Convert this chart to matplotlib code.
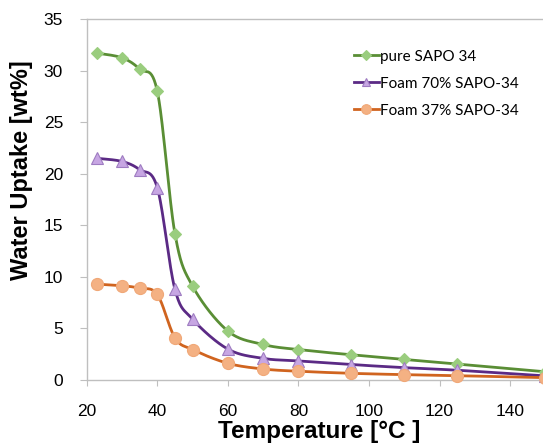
import numpy as np
import matplotlib
matplotlib.use("Agg")
import matplotlib.pyplot as plt

plt.rcParams["font.family"] = ["Liberation Sans", "DejaVu Sans"]

temps = [23, 30, 35, 40, 45, 50, 60, 70, 80, 95, 110, 125, 150]
pure_sapo = [31.7, 31.25, 30.15, 28.0, 14.2, 9.1, 4.75, 3.45, 2.95, 2.45, 2.0, 1.55, 0.8]
foam70 = [21.5, 21.2, 20.4, 18.65, 8.8, 5.9, 3.0, 2.1, 1.85, 1.5, 1.2, 0.95, 0.4]
foam37 = [9.3, 9.15, 8.9, 8.3, 4.1, 2.95, 1.62, 1.07, 0.85, 0.65, 0.52, 0.42, 0.23]
labels = ["pure SAPO 34", "Foam 70% SAPO-34", "Foam 37% SAPO-34"]


def smooth(x, y, n=30):
    x = np.asarray(x, float)
    y = np.asarray(y, float)
    px = np.concatenate([[x[0]], x, [x[-1]]])
    py = np.concatenate([[y[0]], y, [y[-1]]])
    xs, ys = [], []
    for i in range(1, len(px) - 2):
        p0 = np.array([px[i - 1], py[i - 1]])
        p1 = np.array([px[i], py[i]])
        p2 = np.array([px[i + 1], py[i + 1]])
        p3 = np.array([px[i + 2], py[i + 2]])
        c1 = p1 + (p2 - p0) / 6.0
        c2 = p2 - (p3 - p1) / 6.0
        t = np.linspace(0, 1, n)[:, None]
        b = ((1 - t) ** 3) * p1 + 3 * ((1 - t) ** 2) * t * c1 + 3 * (1 - t) * t ** 2 * c2 + t ** 3 * p2
        xs.append(b[:, 0])
        ys.append(b[:, 1])
    return np.concatenate(xs), np.concatenate(ys)


fig = plt.figure(figsize=(5.43, 4.45), dpi=100)
ax = fig.add_axes([0.1597, 0.146, 1.0 - 0.1597, 0.957 - 0.146])

series = [
    (pure_sapo, "#5A8E35", "#9ACD7E", "#9ACD7E", "D", 6.5),
    (foam70, "#5B2A85", "#C7A6E3", "#9E7CC1", "^", 8),
    (foam37, "#D0641F", "#F4B183", "#F0A878", "o", 8.7),
]
for (vals, lc, mc, me, mk, ms), lab in zip(series, labels):
    sx, sy = smooth(temps, vals)
    ax.plot(sx, sy, color=lc, lw=2.0, zorder=2, clip_on=False)
    ax.plot(temps, vals, linestyle="none", marker=mk, ms=ms, mfc=mc,
            mec=me, mew=0.8, zorder=3, clip_on=False)
    ax.plot([], [], color=lc, lw=2.0, marker=mk, ms=ms, mfc=mc,
            mec=me, mew=0.8, label=lab)

ax.set_xlim(20, 149.3)
ax.set_ylim(0, 35)
ax.set_xticks(range(20, 141, 20))
ax.set_yticks(range(0, 36, 5))
for s in ["left", "bottom", "top"]:
    ax.spines[s].set_color("#BFBFBF")
    ax.spines[s].set_linewidth(1.0)
ax.spines["right"].set_visible(False)
ax.tick_params(axis="both", colors="#BFBFBF", labelcolor="black",
               labelsize=12.5, direction="out")
ax.tick_params(axis="y", length=5, pad=12)
ax.tick_params(axis="x", length=4, pad=13)

ax.set_xlabel("Temperature [°C ]", fontsize=17.5, fontweight="bold")
ax.set_ylabel("Water Uptake [wt%]", fontsize=17, fontweight="bold")
ax.xaxis.set_label_coords(0.51, -0.11)
ax.yaxis.set_label_coords(-0.118, 0.582)

leg = ax.legend(loc="upper left", bbox_to_anchor=(0.585, 0.915), frameon=False,
                prop={"family": "Lato", "size": 11}, handlelength=1.65,
                handletextpad=0.1, labelspacing=0.85, markerscale=0.8,
                borderaxespad=0, borderpad=0)

fig.savefig("out.png", dpi=100)
